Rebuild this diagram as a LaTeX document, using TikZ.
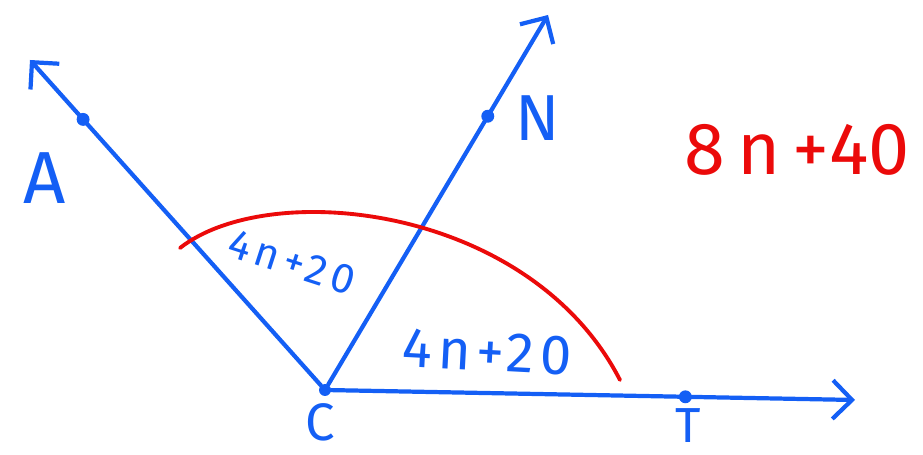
\documentclass[tikz,border=0pt]{standalone}
\usepackage{fontspec}
\setmainfont{Fira Sans}
\usetikzlibrary{arrows.meta,calc}
\definecolor{penblue}{RGB}{20,95,245}
\definecolor{penred}{RGB}{235,10,10}
\tikzset{
  ray/.style={penblue, line width=2.4pt, line cap=round, -{Straight Barb[length=11pt,width=22pt,line width=2.4pt]}},
  lbl/.style={penblue, inner sep=0pt, font=\fontsize{34}{36}\selectfont},
  dot/.style={circle, fill=penblue, inner sep=2.6pt}
}
\begin{document}
\begin{tikzpicture}
  \useasboundingbox (0,0) rectangle (18.46,9.1);
  % vertex and ray ends
  \node[dot, inner sep=2.4pt] (C) at (6.5,1.3) {};
  \coordinate (Aend) at (0.6,7.9);
  \coordinate (Nend) at (10.96,8.8);
  \coordinate (Tend) at (17.1,1.1);
  \draw[ray] (C)--(Aend);
  \draw[ray] (C)--(Nend);
  \draw[ray] (C)--(Tend);
  % points on the rays
  \node[dot] (A) at ($(C)!0.82!(Aend)$) {};
  \node[dot] (N) at ($(C)!0.73!(Nend)$) {};
  \node[dot] (T) at ($(C)!0.68!(Tend)$) {};
  \node[lbl, font=\fontsize{42}{44}\selectfont] (Alab) at (0.9,5.54) {A};
  \node[lbl, font=\fontsize{37}{40}\selectfont] (Nlab) at (10.76,6.74) {N};
  \node[lbl, font=\fontsize{28}{30}\selectfont] (Tlab) at (13.76,0.58) {T};
  \node[lbl, font=\fontsize{30}{32}\selectfont] (Clab) at (6.4,0.66) {C};
  % red arc across both angles
  \coordinate (arcL) at (3.6,4.14);
  \coordinate (arcR) at (12.4,1.5);
  \draw[penred, line width=2.2pt, line cap=round] (arcL) .. controls (5.4,5.55) and (10.6,5.0) .. (arcR);
  \node[lbl, rotate=-18, font=\fontsize{24}{26}\selectfont\addfontfeature{LetterSpace=12}] (angACN) at (5.84,3.86) {4n+20};
  \node[lbl, rotate=-3, font=\fontsize{32}{34}\selectfont\addfontfeature{LetterSpace=10}] (angNCT) at (9.74,2.06) {4n+20};
  \node[lbl, text=penred, font=\fontsize{42}{44}\selectfont] (total) at (15.94,6.1) {8\,n\,+40};
\end{tikzpicture}
\end{document}
